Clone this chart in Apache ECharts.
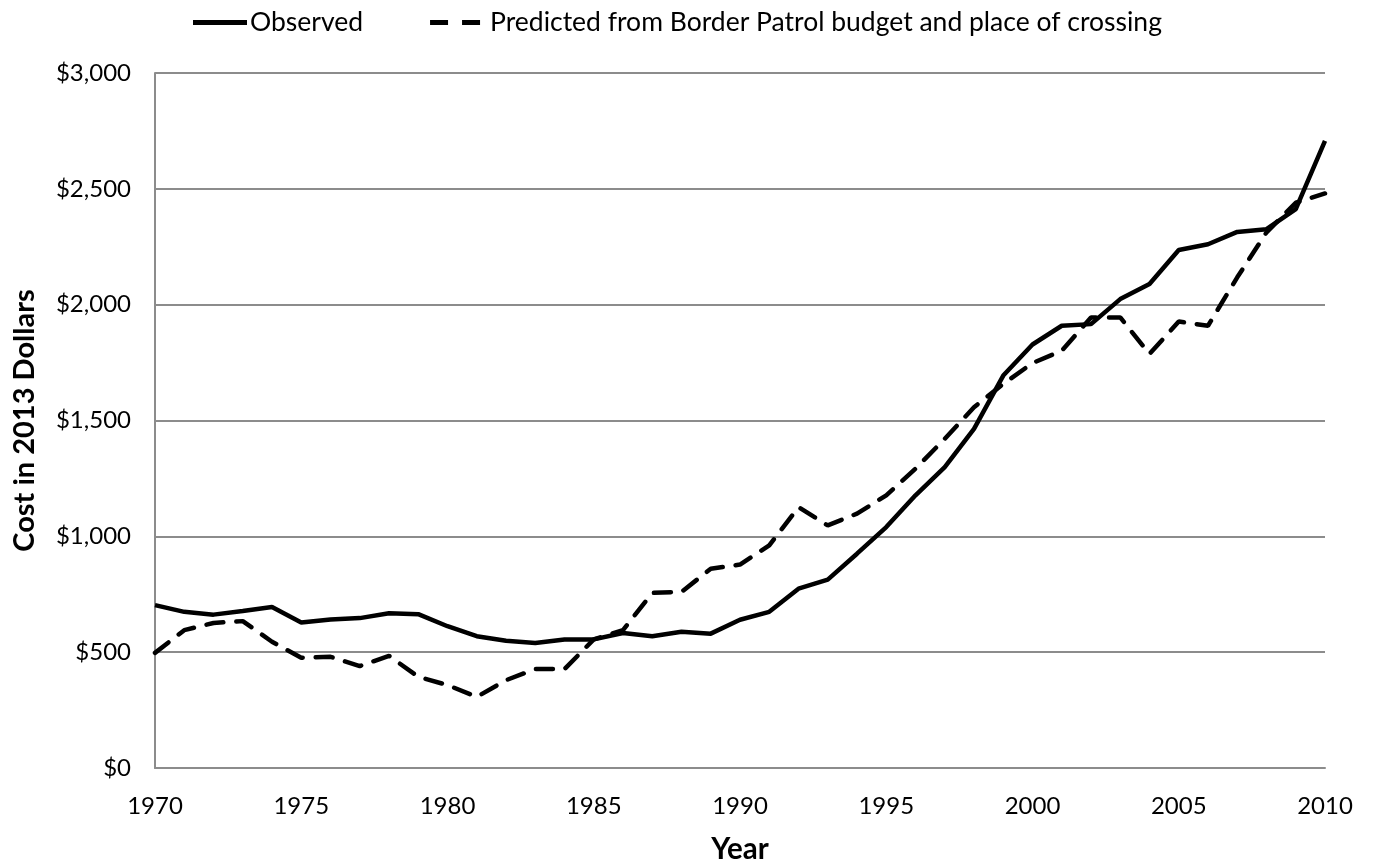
<!DOCTYPE html>
<html>
<head>
<meta charset="utf-8">
<script src="https://cdn.jsdelivr.net/npm/echarts@6/dist/echarts.min.js"></script>
<style>
html,body{margin:0;padding:0;background:#fff;}
#chart{width:1375px;height:867px;}
</style>
</head>
<body>
<div id="chart"></div>
<script>
const years = [];
for (let y = 1970; y <= 2010; y++) years.push(y);

const observed = [703, 674, 662, 678, 695, 628, 641, 647, 668, 664,
                  612, 569, 549, 540, 555, 555, 583, 569, 588, 580,
                  640, 674, 774, 813, 925, 1040, 1177, 1299, 1464, 1694,
                  1828, 1909, 1916, 2024, 2089, 2236, 2261, 2314, 2326, 2412,
                  2707];
const predicted = [497, 595, 626, 634, 545, 476, 480, 440, 484, 394,
                   358, 307, 379, 427, 427, 555, 595, 756, 760, 860,
                   878, 961, 1126, 1047, 1098, 1177, 1292, 1421, 1557, 1658,
                   1748, 1801, 1945, 1945, 1787, 1927, 1909, 2118, 2312, 2440,
                   2480];
const seriesNames = ['Observed', 'Predicted from Border Patrol budget and place of crossing'];

const FONT = 'Lato, "Open Sans", sans-serif';
const chart = echarts.init(document.getElementById('chart'));
chart.setOption({
  animation: false,
  textStyle: {fontFamily: FONT},
  legend: {
    top: 4,
    left: 188,
    itemWidth: 54,
    itemHeight: 5,
    itemGap: 67,
    symbolKeepAspect: true,
    textStyle: {fontFamily: FONT, fontSize: 26.5, color: '#000', padding: [0,0,0,-2]},
    data: [
      {name: seriesNames[0], icon: 'path://M0,0H54V5H0Z'},
      {name: seriesNames[1], icon: 'path://M0,0H18V5H0ZM32,0H50V5H32Z',
       textStyle: {fontFamily: FONT, fontSize: 26.5, color: '#000', padding: [0,0,0,3]}}
    ]
  },
  grid: {left: 155, right: 50, top: 73, bottom: 99, outerBoundsMode: 'none', containLabel: false},
  xAxis: {
    type: 'value',
    min: 1970, max: 2010, interval: 5,
    name: 'Year',
    nameLocation: 'middle',
    nameGap: 66,
    nameTextStyle: {fontFamily: FONT, fontSize: 29.5, fontWeight: 'bold', color: '#000'},
    axisLine: {show: true, lineStyle: {color: '#8c8c8c', width: 2}},
    axisTick: {show: false},
    splitLine: {show: false},
    axisLabel: {fontFamily: FONT, fontSize: 24, color: '#000', margin: 26, formatter: v => String(v)}
  },
  yAxis: {
    type: 'value',
    min: 0, max: 3000, interval: 500,
    name: 'Cost in 2013 Dollars',
    nameLocation: 'middle',
    nameGap: 116,
    nameTextStyle: {fontFamily: FONT, fontSize: 29, fontWeight: 'bold', color: '#000'},
    axisLine: {show: true, lineStyle: {color: '#8c8c8c', width: 2}},
    axisTick: {show: false},
    splitLine: {show: true, lineStyle: {color: '#8c8c8c', width: 2}},
    axisLabel: {fontFamily: FONT, fontSize: 24, color: '#000', margin: 24,
      formatter: v => '$' + v.toLocaleString('en-US')}
  },
  series: [
    {
      name: seriesNames[0], type: 'line',
      data: years.map((y, i) => [y, observed[i]]),
      symbol: 'none', showSymbol: false,
      lineStyle: {color: '#000', width: 4.5},
      itemStyle: {color: '#000'}
    },
    {
      name: seriesNames[1], type: 'line',
      data: years.map((y, i) => [y, predicted[i]]),
      symbol: 'none', showSymbol: false,
      lineStyle: {color: '#000', width: 4.5, type: [17, 13], cap: 'round'},
      itemStyle: {color: '#000'}
    }
  ]
});
</script>
</body>
</html>
